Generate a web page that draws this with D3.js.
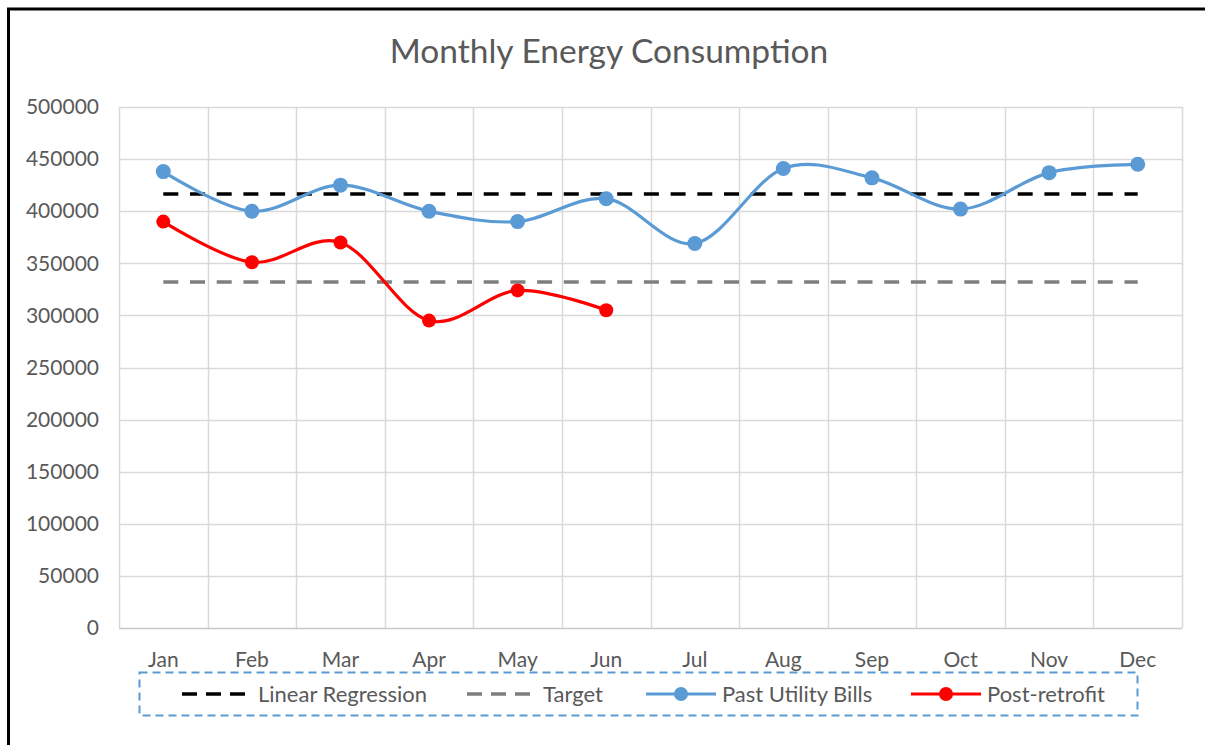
<!DOCTYPE html>
<html>
<head>
<meta charset="utf-8">
<script src="https://cdn.jsdelivr.net/npm/d3@7"></script>
<style>
  body { margin: 0; background: #fff; }
  text { font-family: Lato, "Open Sans", sans-serif; fill: #595959; }
</style>
</head>
<body>
<svg width="1205" height="745"></svg>
<script>
var months = ["Jan","Feb","Mar","Apr","May","Jun","Jul","Aug","Sep","Oct","Nov","Dec"];
var pastBills = [438000, 400000, 425000, 400000, 390000, 412000, 369000, 441000, 432000, 402000, 437000, 445000];
var postRetrofit = [390000, 351000, 370000, 295000, 324000, 305000];
var regressionValue = 416500;
var targetValue = 332000;
var yTicks = [0, 50000, 100000, 150000, 200000, 250000, 300000, 350000, 400000, 450000, 500000];

var svg = d3.select("svg"),
    width = +svg.attr("width"),
    height = +svg.attr("height");

// outer frame (right and bottom edges fall outside the picture)
svg.append("rect")
    .attr("x", 8.5).attr("y", 9)
    .attr("width", 1210).attr("height", 760)
    .attr("fill", "none").attr("stroke", "#000").attr("stroke-width", 3);

var x = d3.scaleBand().domain(months).range([119, 1182]);
var y = d3.scaleLinear().domain([0, 500000]).range([628, 107]);
var cx = function(m) { return x(m) + x.bandwidth() / 2; };

// title
svg.append("text")
    .attr("x", 609).attr("y", 63)
    .attr("text-anchor", "middle")
    .style("font-size", "33.5px")
    .text("Monthly Energy Consumption");

var grid = svg.append("g").attr("class", "grid");

// horizontal gridlines
grid.selectAll("line.h")
    .data(yTicks)
    .enter().append("line")
      .attr("class", "h")
      .attr("x1", 119).attr("x2", 1182)
      .attr("y1", function(d) { return Math.round(y(d)) + 0.5; })
      .attr("y2", function(d) { return Math.round(y(d)) + 0.5; })
      .style("stroke", function(d) { return d === 0 ? "#c8c8c8" : "#d9d9d9"; })
      .style("stroke-width", "1.5px");

// vertical gridlines on category boundaries
var bounds = months.map(function(m) { return x(m); }).concat([x.range()[1]]);
grid.selectAll("line.v")
    .data(bounds)
    .enter().append("line")
      .attr("class", "v")
      .attr("x1", function(d) { return Math.round(d) + 0.5; })
      .attr("x2", function(d) { return Math.round(d) + 0.5; })
      .attr("y1", 107).attr("y2", 628)
      .style("stroke", "#d9d9d9")
      .style("stroke-width", "1.5px");

// y axis labels
var yAxis = d3.axisLeft(y).tickValues(yTicks).tickSize(0).tickPadding(0).tickFormat(d3.format("d"));
var ya = svg.append("g").attr("transform", "translate(99,0)").call(yAxis);
ya.select(".domain").remove();
ya.selectAll("text").style("font-size", "21px").style("fill", "#595959").attr("font-family", null);

// x axis labels
var xAxis = d3.axisBottom(x).tickSize(0).tickPadding(0);
var xa = svg.append("g").attr("transform", "translate(0,652)").call(xAxis);
xa.select(".domain").remove();
xa.selectAll("text").style("font-size", "21px").style("fill", "#595959").attr("font-family", null);

// reference lines
function refLine(value, color) {
  svg.append("line")
      .attr("x1", cx("Jan")).attr("x2", cx("Dec"))
      .attr("y1", y(value)).attr("y2", y(value))
      .style("stroke", color)
      .style("stroke-width", "3.5px")
      .style("stroke-dasharray", "15,11.7");
}
refLine(regressionValue, "#000");
refLine(targetValue, "#7f7f7f");

var line = d3.line()
    .x(function(d) { return cx(d.m); })
    .y(function(d) { return y(d.v); })
    .curve(d3.curveCardinal.tension(0));

function series(values, color, r) {
  var pts = values.map(function(v, i) { return { m: months[i], v: v }; });
  svg.append("path")
      .datum(pts)
      .attr("d", line)
      .style("fill", "none")
      .style("stroke", color)
      .style("stroke-width", "3.2px");
  svg.append("g").selectAll("circle")
      .data(pts)
      .enter().append("circle")
        .attr("cx", function(d) { return cx(d.m); })
        .attr("cy", function(d) { return y(d.v); })
        .attr("r", r)
        .style("fill", color);
}
series(pastBills, "#5b9bd5", 7.5);
series(postRetrofit, "#ff0000", 7);

// legend
var legend = svg.append("g");
legend.append("rect")
    .attr("x", 139.5).attr("y", 672.5)
    .attr("width", 998).attr("height", 43)
    .style("fill", "none")
    .style("stroke", "#5b9bd5")
    .style("stroke-width", "2px")
    .style("stroke-dasharray", "8,5");

var legendItems = [
  { name: "Linear Regression", color: "#000", dash: "15,9", marker: false, x: 182 },
  { name: "Target", color: "#7f7f7f", dash: "15,9", marker: false, x: 467 },
  { name: "Past Utility Bills", color: "#5b9bd5", dash: null, marker: true, x: 646 },
  { name: "Post-retrofit", color: "#ff0000", dash: null, marker: true, x: 911 }
];
var li = legend.selectAll("g.item")
    .data(legendItems)
    .enter().append("g")
      .attr("class", "item")
      .attr("transform", function(d) { return "translate(" + d.x + ",694)"; });
li.append("line")
    .attr("x1", 0).attr("x2", 70)
    .style("stroke", function(d) { return d.color; })
    .style("stroke-width", function(d) { return d.marker ? "3.2px" : "3.5px"; })
    .style("stroke-dasharray", function(d) { return d.dash; });
li.filter(function(d) { return d.marker; })
    .append("circle")
      .attr("cx", 35).attr("r", 7)
      .style("fill", function(d) { return d.color; });
li.append("text")
    .attr("x", 76).attr("dy", "0.35em")
    .style("font-size", "22px")
    .text(function(d) { return d.name; });
</script>
</body>
</html>
